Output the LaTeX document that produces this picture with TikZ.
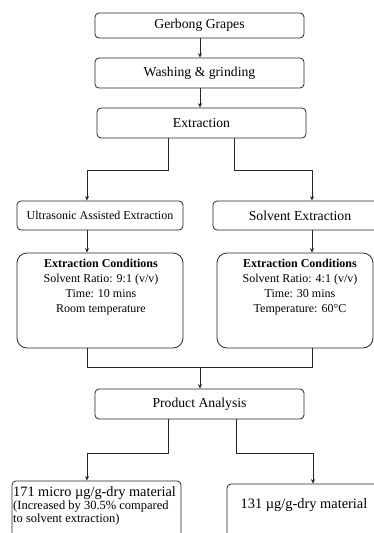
\documentclass[tikz,border=0pt]{standalone}
\usepackage{fontspec}
\setmainfont{Liberation Serif}
\usetikzlibrary{arrows.meta}
\newcommand{\fA}{\fontsize{14.3}{15}\selectfont}
\newcommand{\fB}{\fontsize{12.5}{12}\selectfont}
\begin{document}
\begin{tikzpicture}[x=1pt,y=-1pt,
  box/.style={draw=black!85, line width=0.8pt, rounded corners=4pt, inner sep=0pt, align=center},
  bigbox/.style={box, rounded corners=10pt},
  line/.style={draw=black!85, line width=0.8pt},
  arr/.style={line, -{Stealth[length=4.5pt,width=4pt]}},
  big/.style={font=\fontsize{13.7}{16}\selectfont},
  mid/.style={font=\fontsize{12}{13.2}\selectfont},
  txt/.style={inner sep=0pt, align=center}]
\useasboundingbox (0,0) rectangle (374,533);
\clip (0,0) rectangle (374,533);
% column x positions
\coordinate (xl) at (87,0);
\coordinate (xr) at (312,0);
% top chain
\node[box,big,minimum width=209pt,minimum height=25pt] (G) at (199.5,25.5) {Gerbong Grapes};
\node[box,big,minimum width=209pt,minimum height=30pt] (W) at (199.5,73) {Washing \& grinding};
\node[box,big,minimum width=209pt,minimum height=30pt] (E) at (201.5,123) {Extraction};
\draw[arr] (G.south -| 200,0) -- (W.north -| 200,0);
\draw[arr] (W.south -| 200,0) -- (E.north -| 200,0);
% methods
\node[box,mid,minimum width=166pt,minimum height=29pt] (U) at (100,215.5) {Ultrasonic Assisted Extraction};
\node[box,big,minimum width=174pt,minimum height=29pt] (S) at (300,215.5) {Solvent Extraction};
\coordinate (eL) at (168,138);
\coordinate (eR) at (234,138);
\draw[arr] (eL) -- (eL |- 0,170) -| (U.north -| xl);
\draw[arr] (eR) -- (eR |- 0,170) -| (S.north -| xr);
% conditions
\node[bigbox,minimum width=166pt,minimum height=95pt] (CL) at (100,300.5) {};
\node[bigbox,minimum width=156pt,minimum height=95pt] (CR) at (295,300.5) {};
\node[txt,mid,anchor=north] (CLt) at (101,258.5) {\textbf{Extraction Conditions}\\[2pt]Solvent Ratio: 9:1 (v/v)\\[2pt]Time: 10 mins\\[2pt]Room temperature};
\node[txt,mid,anchor=north] (CRt) at (300,258.5) {\textbf{Extraction Conditions}\\[2pt]Solvent Ratio: 4:1 (v/v)\\[2pt]Time: 30 mins\\[2pt]Temperature: 60°C};
\draw[arr] (U.south -| xl) -- (CL.north -| xl);
\draw[arr] (S.south -| xr) -- (CR.north -| xr);
% join
\coordinate (jc) at (200,367);
\node[box,big,minimum width=209pt,minimum height=30pt] (P) at (199.5,404) {Product Analysis};
\draw[line] (CL.south -| xl) |- (jc);
\draw[line] (CR.south -| xr) |- (jc);
\draw[arr] (jc) -- (P.north -| jc);
% results
\node[box,minimum width=169pt,minimum height=64pt] (BL) at (96.5,513) {};
\node[box,minimum width=154pt,minimum height=64pt] (BR) at (304,516) {};
\node[inner sep=0pt,align=left,anchor=north west] (BLt) at (13,486) {\fA 171 micro µg/g-dry material\\[1.5pt]\fB (Increased by 30.5\% compared\\[0.5pt]\fB to solvent extraction)};
\node[txt,anchor=base] (BRt) at (304,508) {\fontsize{14.4}{16}\selectfont 131 µg/g-dry material};
\coordinate (pL) at (168,419);
\coordinate (pR) at (236,419);
\draw[arr] (pL) -- (pL |- 0,453) -| (BL.north -| xl);
\draw[arr] (pR) -- (pR |- 0,453) -| (BR.north -| 313,0);
\end{tikzpicture}
\end{document}
